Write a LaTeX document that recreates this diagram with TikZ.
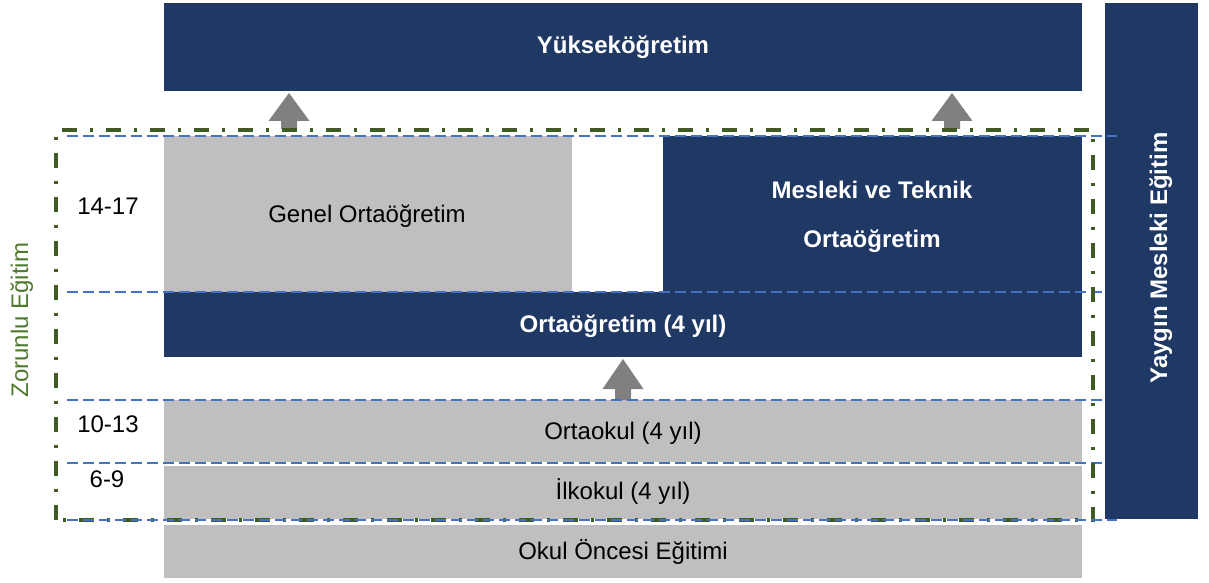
\documentclass[tikz,border=0pt]{standalone}
\usepackage{fontspec}
\setmainfont{Liberation Sans}
\definecolor{navy}{HTML}{203864}
\definecolor{lgray}{HTML}{BFBFBF}
\definecolor{agray}{HTML}{808080}
\definecolor{olive}{HTML}{3F5A22}
\definecolor{olivetext}{HTML}{4F7A2E}
\definecolor{dblue}{HTML}{4472C4}
\begin{document}
\begin{tikzpicture}[x=1pt,y=-1pt,
  lbl/.style={font=\fontsize{24}{28}\selectfont, anchor=base, inner sep=0pt},
  wlbl/.style={lbl, text=white, font=\fontsize{24}{28}\selectfont\bfseries},
  agelbl/.style={lbl},
  rowline/.style={dblue, line width=1.3pt, dash pattern=on 11pt off 5pt},
  zorline/.style={olive, line width=4pt, dash pattern=on 15pt off 13pt on 3pt off 13pt},
  uparrow/.style={fill=agray}
]
\useasboundingbox (0,0) rectangle (1209,583);
% boxes
\fill[navy] (164,3) rectangle (1082,91);
\fill[navy] (1105,3) rectangle (1198,519);
\fill[lgray] (164,136) rectangle (572,292);
\fill[navy] (663,136) rectangle (1082,293);
\fill[navy] (164,292) rectangle (1082,357);
\fill[lgray] (164,400) rectangle (1082,462);
\fill[lgray] (164,466) rectangle (1082,519);
\fill[lgray] (164,525) rectangle (1082,578);
% arrows
\fill[uparrow] (289,93) -- (309.5,121) -- (297,121) -- (297,129) -- (281,129) -- (281,121) -- (268.5,121) -- cycle;
\fill[uparrow] (952,93) -- (972.5,121) -- (960,121) -- (960,129) -- (944,129) -- (944,121) -- (931.5,121) -- cycle;
\fill[uparrow] (623,359) -- (643.5,389) -- (631,389) -- (631,400) -- (615,400) -- (615,389) -- (602.5,389) -- cycle;
% row lines
\coordinate (l1a) at (67,136); \coordinate (l1b) at (1117,136);
\coordinate (l2a) at (67,292); \coordinate (l2b) at (1105,292);
\coordinate (l3a) at (67,400); \coordinate (l3b) at (1105,400);
\coordinate (l4a) at (67,463); \coordinate (l4b) at (1105,463);
\coordinate (l5a) at (67,520); \coordinate (l5b) at (1117,520);
\draw[rowline] (l1a) -- (l1b);
\draw[rowline] (l2a) -- (l2b);
\draw[rowline] (l3a) -- (l3b);
\draw[rowline] (l4a) -- (l4b);
% compulsory frame
\draw[zorline] (56,520) -- (56,130) -- (1093,130) -- (1093,520) -- cycle;
\draw[rowline] (l5a) -- (l5b);
% labels
\node[wlbl] (yuk) at (623,54) {Yükseköğretim};
\node[wlbl, rotate=90] (yay) at (1167,258) {Yaygın Mesleki Eğitim};
\node[lbl, rotate=90, text=olivetext] (zor) at (28,320) {Zorunlu Eğitim};
\node[lbl] (genel) at (367,222) {Genel Ortaöğretim};
\node[wlbl] (mes1) at (872,198) {Mesleki ve Teknik};
\node[wlbl] (mes2) at (872,247) {Ortaöğretim};
\node[wlbl] (orta) at (623,332) {Ortaöğretim (4 yıl)};
\node[lbl] (ortaokul) at (623,439) {Ortaokul (4 yıl)};
\node[lbl] (ilk) at (623,499) {İlkokul (4 yıl)};
\node[lbl] (okul) at (623,559) {Okul Öncesi Eğitimi};
\node[agelbl] (a1) at (108,214) {14-17};
\node[agelbl] (a2) at (108,432) {10-13};
\node[agelbl] (a3) at (107,487) {6-9};
\end{tikzpicture}
\end{document}
